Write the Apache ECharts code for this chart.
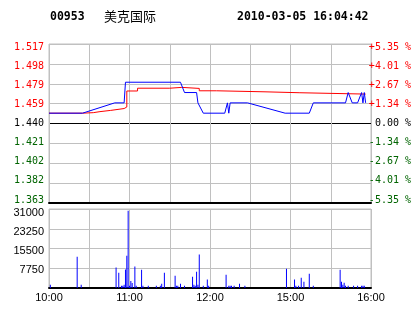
<!DOCTYPE html>
<html>
<head>
<meta charset="utf-8">
<script src="https://cdn.jsdelivr.net/npm/echarts@6/dist/echarts.min.js"></script>
<style>
html,body{margin:0;padding:0;background:#fff;}
#c{width:414px;height:314px;}
</style>
</head>
<body>
<div id="c"></div>
<script>
// ---- header texts ----
const stockCode = '00953';
const stockName = '美克国际';
const stampText = '2010-03-05 16:04:42';

// ---- reference values ----
const prevClose = 1.440;
const pctRange = 5.35;

// ---- tick labels (top to bottom) ----
const priceTicks = ['1.517','1.498','1.479','1.459','1.440','1.421','1.402','1.382','1.363'];
const pctTicks = ['+5.35 %','+4.01 %','+2.67 %','+1.34 %',' 0.00 %','-1.34 %','-2.67 %','-4.01 %','-5.35 %'];
const volTicks = ['31000','23250','15500','7750'];
const timeTicks = ['10:00','11:00','12:00','15:00','16:00'];

// ---- price line (time, price) ----
const priceTimes = ['10:00','10:25','10:49','10:56','10:57','11:38','11:41','11:50','11:51','11:52','11:55','12:11','12:13','12:14','12:15','12:28','14:56','15:14','15:17','15:41','15:43','15:46','15:50','15:53','15:54','15:55','15:56'];
const priceValues = [1.450,1.450,1.460,1.460,1.480,1.480,1.470,1.470,1.460,1.460,1.450,1.450,1.460,1.450,1.460,1.460,1.450,1.450,1.460,1.460,1.470,1.460,1.460,1.470,1.460,1.470,1.460];

// ---- average price line (time, price) ----
const avgTimes = ['10:00','10:25','10:33','10:38','10:46','10:56','10:58','11:06','11:30','11:39','11:52','12:05','14:41','15:07','15:56'];
const avgValues = [1.4500,1.4505,1.4515,1.4527,1.4545,1.4560,1.4715,1.4742,1.4750,1.4740,1.4717,1.4707,1.4698,1.4685,1.4685];

// ---- volume bars (time, volume) ----
const volTimes = ['10:01','10:21','10:24','10:50','10:52','10:54','10:55','10:56','10:57','10:58','10:59','11:00','11:01','11:02','11:04','11:05','11:09','11:10','11:14','11:20','11:23','11:24','11:26','11:34','11:35','11:36','11:38','11:41','11:47','11:48','11:49','11:50','11:51','11:52','11:55','11:58','11:59','12:12','12:14','12:15','12:16','12:18','12:22','12:26','14:57','15:03','15:04','15:06','15:08','15:10','15:14','15:17','15:37','15:38','15:39','15:40','15:41','15:43','15:47','15:50','15:53','15:54','15:55'];
const volValues = [1300,12300,1300,8000,6000,900,900,1300,7300,12700,30300,900,2700,2000,8400,900,7200,900,900,900,900,1700,6000,4800,900,900,1700,900,4400,1300,900,6400,1300,13100,900,3300,900,5200,900,900,900,900,1700,900,7600,3300,900,900,4000,2500,5600,900,7200,2500,1300,2100,900,900,900,900,900,900,900];

// ---- trading-minute categories (10:00-12:30, 14:31-16:00) ----
const times = [];
function pushRange(a, b) {
  for (let t = a; t <= b; t++) {
    times.push(String(Math.floor(t / 60)).padStart(2, '0') + ':' + String(t % 60).padStart(2, '0'));
  }
}
pushRange(10 * 60, 12 * 60 + 30);
pushRange(14 * 60 + 31, 16 * 60);

const RED = '#ff0000', GREEN = '#006400', GRAY = '#c0c0c0', BLUE = '#0000ff';
function tickColor(i) { return i < 4 ? RED : (i === 4 ? '#000' : GREEN); }

const chart = echarts.init(document.getElementById('c'), null, {renderer: 'canvas'});
const pMin = prevClose * (1 - pctRange / 100);
const pMax = prevClose * (1 + pctRange / 100);
const step = pctRange / 4;

const catAxisBase = {
  type: 'category', data: times, boundaryGap: false,
  axisTick: {show: false},
  axisLine: {onZero: false, lineStyle: {color: '#000', width: 2}},
  splitLine: {show: true, interval: (i) => i % 30 === 0, lineStyle: {color: GRAY, width: 1}}
};

chart.setOption({
  animation: false,
  backgroundColor: '#fff',
  graphic: [
    {type: 'text', x: 50, y: 17, style: {text: stockCode, font: 'bold 11.5px "DejaVu Sans Mono"', fill: '#000', verticalAlign: 'middle'}},
    {type: 'text', x: 104, y: 16, style: {text: stockName, font: '13px "Noto Sans CJK SC"', fill: '#000', verticalAlign: 'middle'}},
    {type: 'text', x: 237, y: 17, style: {text: stampText, font: 'bold 11.5px "DejaVu Sans Mono"', fill: '#000', verticalAlign: 'middle'}}
  ],
  grid: [
    {left: 49, right: 43, top: 44, height: 159, show: true, borderColor: GRAY, borderWidth: 1, backgroundColor: '#fff'},
    {left: 49, right: 43, top: 209, height: 79, show: true, borderColor: GRAY, borderWidth: 1, backgroundColor: '#fff'},
    {left: 49, right: 43, top: 47, height: 153, show: false},
    {left: 49, right: 43, top: 213, height: 76, show: false}
  ],
  xAxis: [
    Object.assign({}, catAxisBase, {gridIndex: 0, axisLabel: {show: false}}),
    Object.assign({}, catAxisBase, {gridIndex: 1, axisLabel: {
      show: true, interval: (i, v) => timeTicks.indexOf(v) >= 0, margin: 4,
      color: '#000', fontFamily: 'Liberation Sans', fontSize: 11
    }}),
    {type: 'value', gridIndex: 2, show: false},
    {type: 'value', gridIndex: 3, show: false}
  ],
  yAxis: [
    // 0: price axis for the lines
    {type: 'value', gridIndex: 0, min: pMin, max: pMax, show: false, splitLine: {show: false}},
    // 1: percent axis for horizontal grid lines
    {type: 'value', gridIndex: 0, min: -pctRange, max: pctRange, interval: step, position: 'right',
      axisLine: {show: false}, axisTick: {show: false}, axisLabel: {show: false},
      splitLine: {show: true, lineStyle: {color: ['#000', GRAY, GRAY, GRAY, '#000', GRAY, GRAY, GRAY, GRAY], width: 1}}},
    // 2: volume axis
    {type: 'value', gridIndex: 1, min: 0, max: 31000, interval: 7750,
      axisLine: {show: false}, axisTick: {show: false}, axisLabel: {show: false},
      splitLine: {show: true, lineStyle: {color: GRAY, width: 1}}},
    // 3: left price labels
    {type: 'value', gridIndex: 2, min: 0, max: 8, interval: 1, position: 'left',
      axisLine: {show: false}, axisTick: {show: false}, splitLine: {show: false},
      axisLabel: {margin: 5, fontFamily: 'DejaVu Sans Mono', fontSize: 10,
        formatter: (v) => priceTicks[8 - v],
        color: (v) => tickColor(8 - v)}},
    // 4: right percent labels
    {type: 'value', gridIndex: 2, min: 0, max: 8, interval: 1, position: 'right',
      axisLine: {show: false}, axisTick: {show: false}, splitLine: {show: false},
      axisLabel: {margin: 0, fontFamily: 'DejaVu Sans Mono', fontSize: 10,
        formatter: (v) => pctTicks[8 - v],
        color: (v) => tickColor(8 - v)}},
    // 5: volume labels
    {type: 'value', gridIndex: 3, min: 0, max: 31000, interval: 7750, position: 'left',
      axisLine: {show: false}, axisTick: {show: false}, splitLine: {show: false},
      axisLabel: {margin: 5, fontFamily: 'Liberation Sans', fontSize: 11, color: '#000',
        formatter: (v) => v === 0 ? '' : volTicks[3 - Math.round(v / 7750 - 1)]}}
  ],
  series: [
    {type: 'line', xAxisIndex: 0, yAxisIndex: 0, step: 'end', symbol: 'none',
      lineStyle: {color: RED, width: 1}, data: avgTimes.map((t, i) => [t, avgValues[i]]), z: 3},
    {type: 'line', xAxisIndex: 0, yAxisIndex: 0, symbol: 'none',
      lineStyle: {color: BLUE, width: 1}, data: priceTimes.map((t, i) => [t, priceValues[i]]), z: 4},
    {type: 'bar', xAxisIndex: 1, yAxisIndex: 2, barWidth: 1, itemStyle: {color: BLUE},
      data: volTimes.map((t, i) => [t, volValues[i]])}
  ]
});
</script>
</body>
</html>
